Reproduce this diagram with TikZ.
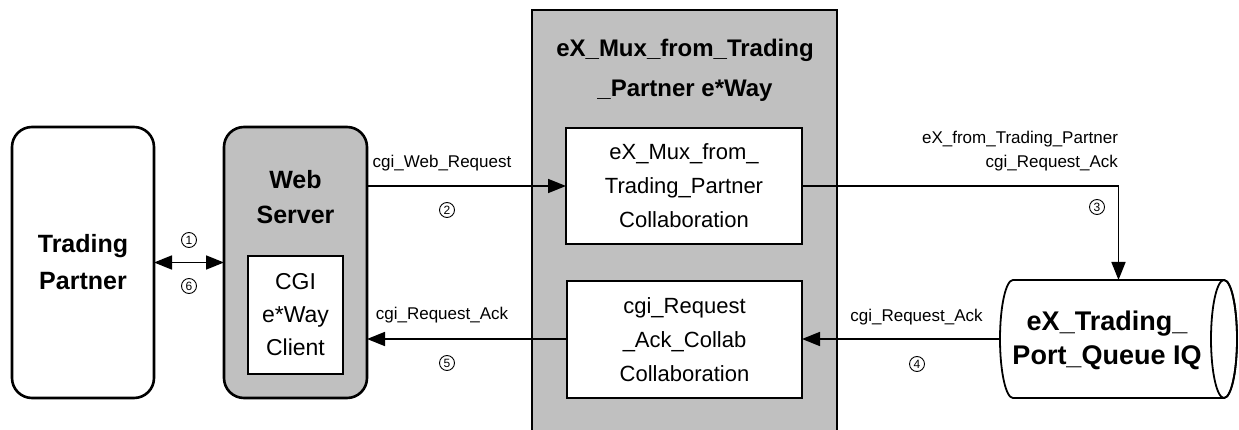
\documentclass[tikz,border=0pt]{standalone}
\usepackage{fontspec}
\setmainfont{Liberation Sans}
\usetikzlibrary{arrows.meta}
\definecolor{boxgray}{RGB}{192,192,192}
\tikzset{
  every node/.style={inner sep=0pt, outer sep=0pt},
  rbox/.style={draw, line width=2.6pt, rounded corners=20pt, align=center,
    font=\fontsize{25}{37}\selectfont\bfseries},
  ibox/.style={draw, line width=1.6pt, fill=white, align=center,
    font=\fontsize{22}{34}\selectfont},
  elabel/.style={font=\fontsize{17}{24}\selectfont, align=center},
  num/.style={draw, circle, line width=0.9pt, minimum size=15pt,
    font=\fontsize{12}{12}\selectfont},
  conn/.style={line width=1.7pt, -{Triangle[length=18pt,width=14pt]}},
  dconn/.style={line width=1.7pt, {Triangle[length=18pt,width=14pt]}-{Triangle[length=18pt,width=14pt]}}
}
\begin{document}
\begin{tikzpicture}[x=1pt,y=-1pt]
\useasboundingbox (0,0) rectangle (1239,430);
% big e*Way box (extends below the picture)
\fill[boxgray] (532,10) rectangle (837,445);
\draw[line width=2.6pt] (532,445) -- (532,10) -- (837,10) -- (837,445);
\node[font=\fontsize{24}{40}\selectfont\bfseries, align=center] (title) at (685,70)
  {eX\_Mux\_from\_Trading\\\_Partner e*Way};
% Trading partner
\node[rbox, minimum width=142pt, minimum height=271pt] (tp) at (83,262.5) {Trading\\Partner};
% Web server
\node[rbox, fill=boxgray, minimum width=143pt, minimum height=271pt] (ws) at (295.5,262.5) {};
\node[font=\fontsize{25}{35}\selectfont\bfseries, align=center] (wst) at (295.5,197) {Web\\Server};
\node[ibox, font=\fontsize{23}{33}\selectfont, minimum width=95pt, minimum height=118pt] (cgi) at (295.5,315) {CGI\\e*Way\\Client};
% collaborations
\node[ibox, minimum width=236pt, minimum height=116pt] (c1) at (684,186) {eX\_Mux\_from\_\\Trading\_Partner\\Collaboration};
\node[ibox, minimum width=235pt, minimum height=117pt] (c2) at (684.5,339.5) {cgi\_Request\\\_Ack\_Collab\\Collaboration};
% IQ cylinder
\node[minimum width=237pt, minimum height=118pt] (iq) at (1118.5,339) {};
\draw[line width=1.8pt, fill=white] (1013,280) arc[start angle=-90, end angle=-270, x radius=13, y radius=59]
  -- (1224,398) arc[start angle=90, end angle=-90, x radius=13, y radius=59] -- cycle;
\draw[line width=1.8pt] (1224,339) ellipse[x radius=13, y radius=59];
\node[font=\fontsize{27}{34}\selectfont\bfseries, align=center] (iqt) at (1107,340) {eX\_Trading\_\\Port\_Queue IQ};
% connectors
\draw[dconn] (tp.east) -- (ws.west);
\node[num] (n1) at (189,240) {1};
\node[num] (n6) at (189,286) {6};
\draw[conn] (ws.east |- c1.west) -- (c1.west);
\node[elabel] (l2) at (442,163) {cgi\_Web\_Request};
\node[num] (n2) at (447,210) {2};
\draw[conn] (c1.east) -| (iq.north);
\node[elabel, align=right, anchor=east] (l3) at (1118,151) {eX\_from\_Trading\_Partner\\cgi\_Request\_Ack};
\node[num] (n3) at (1097,207) {3};
\draw[conn] (iq.west) -- (c2.east |- iq.west);
\node[elabel] (l4) at (916.5,317) {cgi\_Request\_Ack};
\node[num] (n4) at (917,364) {4};
\draw[conn] (c2.west |- 0,339) -- (ws.east |- 0,339);
\node[elabel] (l5) at (442,315) {cgi\_Request\_Ack};
\node[num] (n5) at (447,363) {5};
\end{tikzpicture}
\end{document}
